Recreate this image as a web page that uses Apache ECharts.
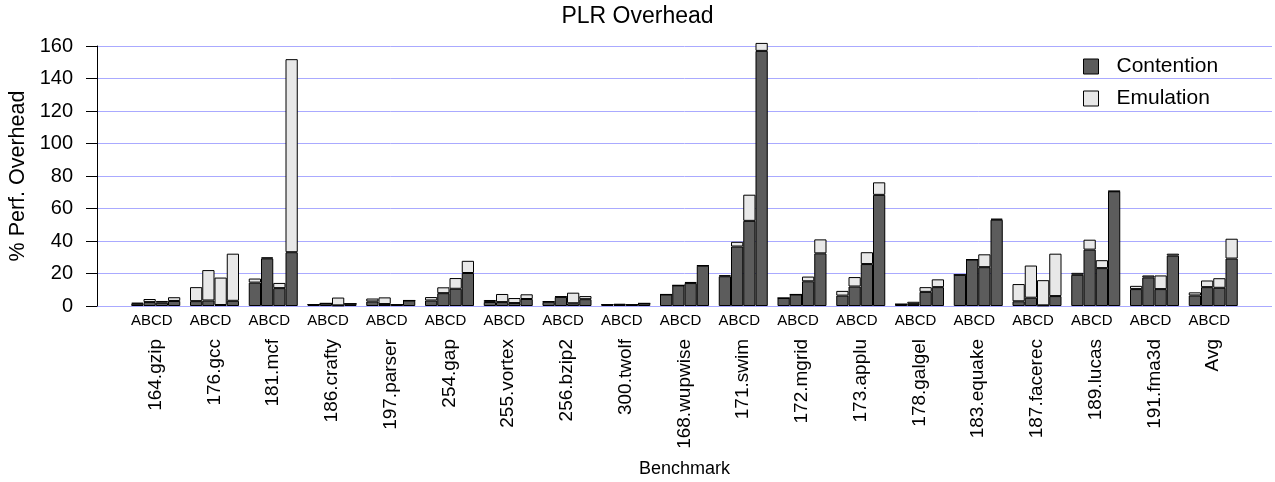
<!DOCTYPE html>
<html>
<head>
<meta charset="utf-8">
<title>PLR Overhead</title>
<script src="https://cdn.jsdelivr.net/npm/echarts@6/dist/echarts.min.js"></script>
<style>
  html, body { margin: 0; padding: 0; background: #fff; }
  #main { width: 1275px; height: 482px; }
</style>
</head>
<body>
<div id="main"></div>
<script type="text/javascript">
// benchmarks, one group of four bars (A..D) each
var benchmarks = ['164.gzip', '176.gcc', '181.mcf', '186.crafty', '197.parser', '254.gap',
    '255.vortex', '256.bzip2', '300.twolf', '168.wupwise', '171.swim', '172.mgrid',
    '173.applu', '178.galgel', '183.equake', '187.facerec', '189.lucas', '191.fma3d', 'Avg'];
var configs = ['A', 'B', 'C', 'D'];

// contention part of each bar
var contA = [1.4, 3.0, 14.4, 0.9, 2.8, 3.4, 2.5, 2.6, 0.8, 7.1, 18.3, 4.9, 6.4, 1.1, 19.2, 2.9, 19.2, 10.4, 6.5];
var contB = [2.4, 3.4, 29.3, 1.6, 1.2, 7.9, 2.4, 5.6, 0.6, 12.7, 36.6, 7.1, 12.0, 1.3, 28.6, 5.1, 34.7, 17.6, 11.6];
var contC = [2.0, 0.6, 11.0, 0.4, 0.8, 10.6, 1.8, 1.7, 0.8, 14.1, 52.4, 15.2, 25.8, 8.7, 23.9, 0.4, 23.3, 10.4, 11.2];
var contD = [3.1, 3.2, 33.1, 1.4, 3.4, 20.3, 4.3, 4.2, 1.6, 24.8, 157.0, 32.4, 68.4, 11.6, 53.1, 6.1, 70.6, 31.0, 29.2];
// emulation part stacked on top
var emuA = [0.6, 8.6, 2.5, 0, 1.8, 2.1, 1.2, 0.3, 0.1, 0, 0.6, 0, 2.9, 0, 0, 10.6, 1.2, 2.0, 1.9];
var emuB = [1.9, 18.7, 0.6, 0, 4.1, 3.6, 5.0, 0.3, 0.8, 0, 2.9, 0, 5.8, 1.3, 0, 19.8, 6.1, 1.2, 4.1];
var emuC = [1.1, 16.9, 3.2, 4.8, 0, 6.6, 3.1, 6.5, 0, 0.7, 16.1, 2.9, 7.3, 2.9, 7.9, 15.5, 4.9, 8.4, 5.9];
var emuD = [2.3, 29.0, 118.8, 0, 0, 7.5, 2.9, 1.9, 0, 0.2, 4.9, 8.6, 7.7, 4.8, 0.6, 26.1, 0.2, 1.2, 12.2];

var cont = [contA, contB, contC, contD];
var emu = [emuA, emuB, emuC, emuD];

var fontFamily = '"Liberation Sans", Arial, Helvetica, sans-serif';

// empty slot at each end so the groups sit one band in from the edges
function pad(arr) {
    return [null].concat(arr).concat([null]);
}
var categories = pad(benchmarks).map(function (v) { return v || ''; });

var series = [];
for (var i = 0; i < configs.length; i++) {
    series.push({
        name: 'Contention',
        type: 'bar',
        stack: configs[i],
        barWidth: 12.25,
        barGap: '0%',
        clip: false,
        itemStyle: { color: '#5c5c5c', borderColor: '#000', borderWidth: 1 },
        data: pad(cont[i])
    });
    series.push({
        name: 'Emulation',
        type: 'bar',
        stack: configs[i],
        barWidth: 12.25,
        barGap: '0%',
        clip: false,
        itemStyle: { color: '#e8e8e8', borderColor: '#000', borderWidth: 1 },
        data: pad(emu[i])
    });
}

var myChart = echarts.init(document.getElementById('main'));
var option = {
    animation: false,
    textStyle: { fontFamily: fontFamily, color: '#000' },
    title: {
        text: 'PLR Overhead',
        left: 'center',
        top: 0,
        textStyle: { fontSize: 23, fontWeight: 'normal', color: '#000', fontFamily: fontFamily }
    },
    legend: {
        orient: 'vertical',
        left: 1078,
        top: 51,
        itemWidth: 15,
        itemHeight: 15,
        itemGap: 11,
        icon: 'rect',
        itemStyle: { borderColor: '#000', borderWidth: 1 },
        textStyle: { fontSize: 21, color: '#000', padding: [0, 0, 0, 13] },
        data: ['Contention', 'Emulation']
    },
    grid: {
        left: 97,
        right: 3,
        top: 46,
        bottom: 176,
        outerBoundsMode: 'none'
    },
    xAxis: [
        {
            type: 'category',
            data: categories,
            boundaryGap: false,
            axisLine: { show: false },
            axisTick: { show: false },
            axisLabel: {
                interval: 0,
                rotate: 90,
                margin: 33,
                fontSize: 19,
                color: '#000'
            },
            name: 'Benchmark',
            nameLocation: 'middle',
            nameGap: 154,
            nameTextStyle: { fontSize: 18, color: '#000' }
        },
        {
            type: 'category',
            data: categories,
            boundaryGap: false,
            position: 'bottom',
            axisLine: { show: false },
            axisTick: { show: false },
            axisLabel: {
                interval: 0,
                margin: 7,
                fontSize: 15,
                color: '#000',
                padding: [0, 8, 0, 0],
                formatter: function (v) { return v ? configs.join('') : ''; }
            }
        }
    ],
    yAxis: {
        type: 'value',
        min: 0,
        max: 160,
        interval: 20,
        axisLine: { show: true, lineStyle: { color: '#000', width: 1 } },
        axisTick: { show: true, length: 11, lineStyle: { color: '#000' } },
        axisLabel: { fontSize: 20, color: '#000', margin: 24 },
        splitLine: { show: true, lineStyle: { color: '#aaaaff', width: 1 } },
        name: '% Perf. Overhead',
        nameLocation: 'middle',
        nameGap: 63,
        nameTextStyle: { fontSize: 21.5, color: '#000' }
    },
    series: series
};
myChart.setOption(option);
</script>
</body>
</html>
